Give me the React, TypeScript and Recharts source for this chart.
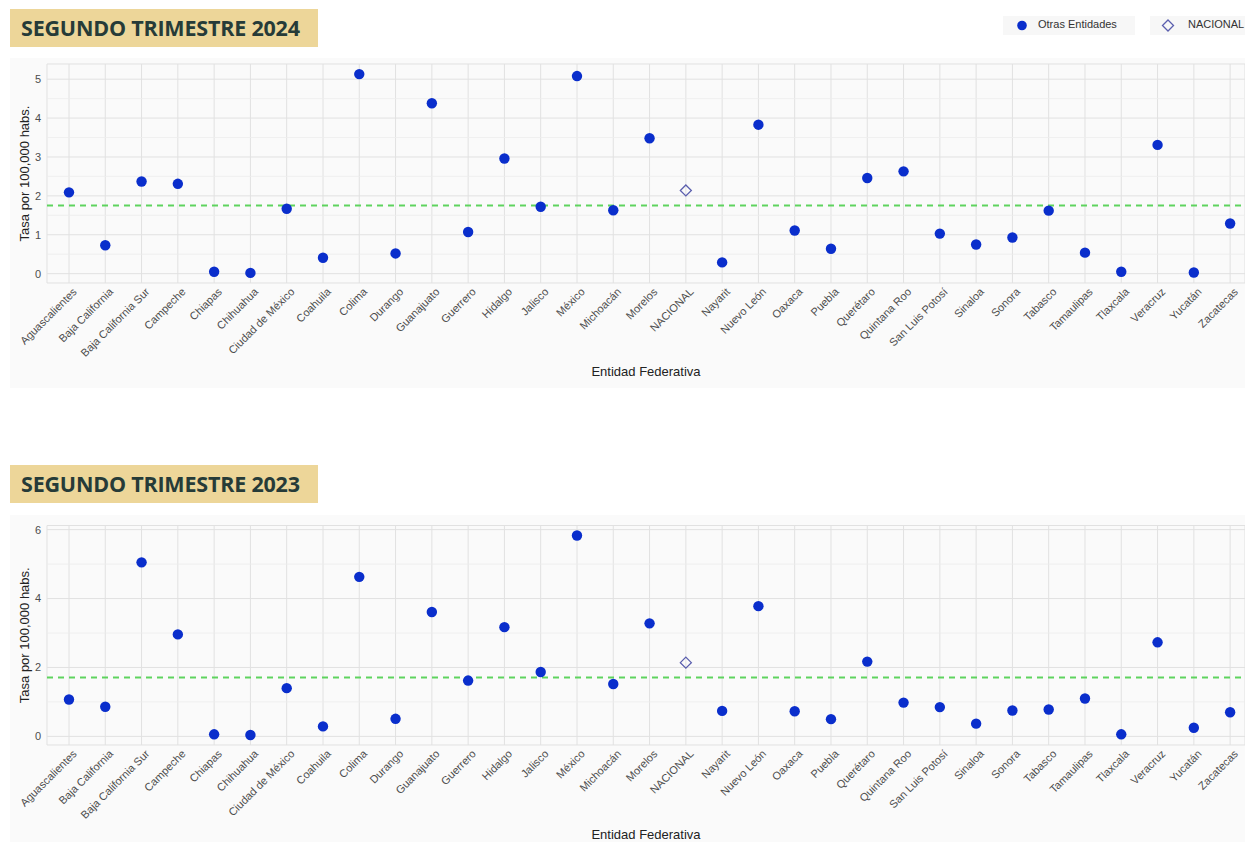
import { ScatterChart, Scatter, XAxis, YAxis, CartesianGrid, ReferenceLine } from 'recharts';

const entidades = [
  'Aguascalientes', 'Baja California', 'Baja California Sur', 'Campeche', 'Chiapas', 'Chihuahua',
  'Ciudad de México', 'Coahuila', 'Colima', 'Durango', 'Guanajuato', 'Guerrero', 'Hidalgo', 'Jalisco',
  'México', 'Michoacán', 'Morelos', 'NACIONAL', 'Nayarit', 'Nuevo León', 'Oaxaca', 'Puebla', 'Querétaro',
  'Quintana Roo', 'San Luis Potosí', 'Sinaloa', 'Sonora', 'Tabasco', 'Tamaulipas', 'Tlaxcala', 'Veracruz',
  'Yucatán', 'Zacatecas'
];

const tasa2024 = [
  2.09, 0.73, 2.37, 2.31, 0.05, 0.02, 1.67, 0.41, 5.13, 0.52, 4.38, 1.07, 2.96, 1.72, 5.08, 1.63, 3.48,
  2.14, 0.29, 3.83, 1.11, 0.64, 2.46, 2.63, 1.03, 0.75, 0.93, 1.62, 0.54, 0.05, 3.31, 0.03, 1.29
];

const tasa2023 = [
  1.07, 0.86, 5.05, 2.96, 0.06, 0.04, 1.40, 0.29, 4.63, 0.51, 3.61, 1.62, 3.17, 1.87, 5.83, 1.52, 3.28,
  2.14, 0.74, 3.78, 0.73, 0.50, 2.17, 0.98, 0.85, 0.37, 0.75, 0.78, 1.10, 0.06, 2.73, 0.25, 0.70
];

const promedio2024 = 1.75;
const promedio2023 = 1.71;

const ticks2024 = [0, 1, 2, 3, 4, 5];
const minor2024 = [0.5, 1.5, 2.5, 3.5, 4.5];
const ticks2023 = [0, 2, 4, 6];
const minor2023 = [1, 3, 5];

const FONT = '"Liberation Sans", Arial, Helvetica, sans-serif';
const BLUE = '#0a2ecc';
const DIAMOND = '#5b5fae';
const idxTicks = entidades.map((_, i) => i);

const XTick = ({ x, y, payload }: any) => (
  <g transform={`translate(${x + 3},${y})`}>
    <text textAnchor="end" transform="rotate(-45)" dy="0.71em" fontSize={11} fill="#4d4d4d" fontFamily={FONT}>
      {entidades[payload.value]}
    </text>
  </g>
);

const Dot = (props: any) => <circle cx={props.cx} cy={props.cy} r={5.2} fill={BLUE} />;

const Diamond = (props: any) => {
  const { cx, cy } = props;
  const s = 5.5;
  return (
    <polygon
      points={`${cx},${cy - s} ${cx + s},${cy} ${cx},${cy + s} ${cx - s},${cy}`}
      fill="none"
      stroke={DIAMOND}
      strokeWidth={1.3}
    />
  );
};

interface PanelProps {
  values: number[];
  avg: number;
  domain: [number, number];
  ticks: number[];
  minor: number[];
  height: number;
  marginTop: number;
  axisHeight: number;
  labelOffset: number;
}

function Panel({ values, avg, domain, ticks, minor, height, marginTop, axisHeight, labelOffset }: PanelProps) {
  const rows = entidades.map((e, i) => ({ idx: i, entidad: e, tasa: values[i] }));
  const otras = rows.filter((d) => d.entidad !== 'NACIONAL');
  const nacional = rows.filter((d) => d.entidad === 'NACIONAL');

  return (
    <ScatterChart width={1235} height={height} margin={{ top: marginTop, right: 0, bottom: 0, left: 0 }}>
      <CartesianGrid stroke="#e1e1e1" strokeWidth={1} />
      {minor.map((m) => (
        <ReferenceLine key={m} y={m} stroke="#ececec" strokeWidth={0.8} />
      ))}
      <XAxis
        type="number"
        dataKey="idx"
        domain={[-0.606, 32.41]}
        ticks={idxTicks}
        interval={0}
        allowDataOverflow
        tick={<XTick />}
        tickLine={false}
        axisLine={false}
        tickSize={2}
        height={axisHeight}
        label={{ value: 'Entidad Federativa', position: 'insideBottom', offset: labelOffset, fontSize: 13, fill: '#222', fontFamily: FONT }}
      />
      <YAxis
        type="number"
        dataKey="tasa"
        domain={domain}
        ticks={ticks}
        allowDataOverflow
        width={37}
        tickLine={false}
        axisLine={false}
        tickSize={4}
        tick={{ fontSize: 11, fill: '#4d4d4d', fontFamily: FONT }}
        label={{
          value: 'Tasa por 100,000 habs.',
          angle: -90,
          position: 'insideLeft',
          offset: 14,
          fontSize: 13,
          fill: '#222',
          fontFamily: FONT,
          style: { textAnchor: 'middle' }
        }}
      />
      <ReferenceLine y={avg} stroke="#5ed35e" strokeWidth={2} strokeDasharray="6 5" />
      <Scatter name="Otras Entidades" data={otras} shape={Dot} isAnimationActive={false} />
      <Scatter name="NACIONAL" data={nacional} shape={Diamond} isAnimationActive={false} />
    </ScatterChart>
  );
}

const titleStyle: React.CSSProperties = {
  position: 'absolute',
  left: 10,
  width: 308,
  height: 38,
  background: '#edd699',
  color: '#263b38',
  fontFamily: '"Open Sans", "Noto Sans", sans-serif',
  fontWeight: 700,
  fontSize: 21.5,
  letterSpacing: -0.2,
  lineHeight: '38px',
  paddingLeft: 11,
  boxSizing: 'border-box',
  whiteSpace: 'nowrap'
};

const panelStyle: React.CSSProperties = {
  position: 'absolute',
  left: 10,
  width: 1235,
  background: '#fafafa'
};

export default function App() {
  return (
    <div style={{ position: 'absolute', left: 0, top: 0, width: 1245, height: 842, overflow: 'hidden', background: '#fff' }}>
      <div style={{ ...titleStyle, top: 9 }}>SEGUNDO TRIMESTRE 2024</div>

      <div style={{ position: 'absolute', left: 1003, top: 16, width: 132, height: 19, background: '#f7f7f7', fontFamily: FONT, fontSize: 11, color: '#333' }}>
        <svg width={20} height={19} style={{ position: 'absolute', left: 9, top: 0 }}>
          <circle cx={10} cy={9.5} r={4.8} fill={BLUE} />
        </svg>
        <span style={{ position: 'absolute', left: 35, top: 2 }}>Otras Entidades</span>
      </div>
      <div style={{ position: 'absolute', left: 1150, top: 16, width: 95, height: 19, background: '#f7f7f7', fontFamily: FONT, fontSize: 11, color: '#333' }}>
        <svg width={20} height={19} style={{ position: 'absolute', left: 8, top: 0 }}>
          <polygon points="10,4 15.5,9.5 10,15 4.5,9.5" fill="none" stroke={DIAMOND} strokeWidth={1.3} />
        </svg>
        <span style={{ position: 'absolute', left: 38, top: 2 }}>NACIONAL</span>
      </div>

      <div style={{ ...panelStyle, top: 58, height: 330 }}>
        <Panel
          values={tasa2024}
          avg={promedio2024}
          domain={[-0.24, 5.39]}
          ticks={ticks2024}
          minor={minor2024}
          height={330}
          marginTop={6}
          axisHeight={105}
          labelOffset={12}
        />
      </div>

      <div style={{ ...titleStyle, top: 465 }}>SEGUNDO TRIMESTRE 2023</div>

      <div style={{ ...panelStyle, top: 515, height: 327 }}>
        <Panel
          values={tasa2023}
          avg={promedio2023}
          domain={[-0.25, 6.12]}
          ticks={ticks2023}
          minor={minor2023}
          height={327}
          marginTop={10.5}
          axisHeight={97}
          labelOffset={3}
        />
      </div>
    </div>
  );
}
